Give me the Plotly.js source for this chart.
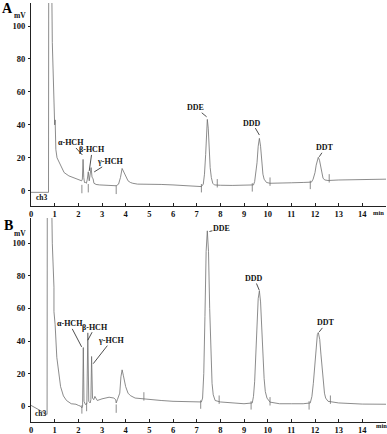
<!DOCTYPE html>
<html>
<head>
<meta charset="utf-8">
<script src="https://cdn.plot.ly/plotly-3.0.1.min.js"></script>
<style>html,body{margin:0;padding:0;background:#fff}#chart{width:387px;height:434px}</style>
</head>
<body>
<div id="chart"></div>
<script>
// ---- Panel A chromatogram (time in min, signal in mV) ----
const timeA = [0,0.74,0.75,0.86,0.9,0.95,1.0,1.02,1.05,1.1,1.15,1.2,1.3,1.4,1.6,1.8,2.0,2.1,2.14,2.17,2.2,2.23,2.26,2.3,2.34,2.38,2.42,2.46,2.5,2.54,2.58,2.62,2.66,2.75,2.9,3.2,3.5,3.6,3.7,3.78,3.85,3.9,4.0,4.1,4.2,4.3,4.5,5.0,5.5,6.0,6.5,7.0,7.2,7.28,7.33,7.38,7.42,7.45,7.49,7.53,7.57,7.62,7.68,7.75,7.9,8.0,8.5,9.0,9.4,9.45,9.5,9.55,9.6,9.65,9.7,9.75,9.8,9.85,9.95,10.1,10.5,11.0,11.5,11.85,11.92,12.0,12.05,12.1,12.14,12.19,12.24,12.29,12.34,12.42,12.55,13.0,13.5,14.0,15.0];
const signalA = [-1,-1,150,150,90,55,40,43,25,20,18.5,16,13,11,9,8,7,6.3,6,7,19,8,5,5,4.5,7,11.5,6,9,14,8,7.5,4.5,3.8,3.5,3.2,3.0,3.0,4,8,13.5,12,8,6,5,4.5,4,4,3.8,3.5,3.2,2.8,2.5,4,10,22,37,43.3,38,25,14,8,4.5,3.5,3.3,3.3,3.2,3.2,3.5,5.5,10,17,27,31.8,27,17,10,7,5,4.5,4.5,4.8,5,5.2,7,11,15.5,19,20.3,18.5,14,10,7.5,6.5,6.2,6.5,6.7,6.8,7];

// ---- Panel B chromatogram ----
const timeB = [0,0.68,0.69,0.85,0.9,0.97,0.97,1.02,1.09,1.15,1.25,1.37,1.5,1.7,1.9,2.0,2.1,2.15,2.18,2.21,2.24,2.3,2.36,2.4,2.44,2.5,2.53,2.56,2.6,2.65,2.7,2.8,3.0,3.3,3.5,3.58,3.6,3.65,3.75,3.8,3.85,3.9,4.0,4.1,4.2,4.4,4.7,5.0,5.5,6.0,6.5,7.0,7.2,7.25,7.3,7.35,7.4,7.45,7.5,7.55,7.6,7.65,7.7,7.78,8.0,8.5,9.0,9.35,9.4,9.45,9.5,9.55,9.6,9.65,9.7,9.75,9.8,9.85,9.9,9.97,10.1,10.5,11.0,11.5,11.8,11.87,11.93,12.0,12.05,12.1,12.14,12.2,12.25,12.3,12.35,12.4,12.45,12.55,13.0,13.5,14.0,15.0];
const signalB = [0.5,-5,150,150,100,73,58,50,30,21.7,12,6.3,3.5,1.5,1.2,0.5,0,-1,0,36,3,1,1.5,45,3,2,4,30.5,5,4,6,3.5,4.5,5.5,5,4,2,4,8,18,22.3,19,12,8,6.5,5,4.5,4,3.5,3,2.7,2.6,2.6,5,20,55,95,107.6,95,60,30,14,7,3.5,2.6,2,1.5,2,6,15,32,52,66,70.7,64,48,30,17,9,5,2.5,1.5,1.5,1.5,2,6,14,27,38,44,45.2,41,32,23,14,8,5,3,2,1.6,1.3,1.2];

// ---- integration markers (small vertical ticks on the baseline) ----
const markA_x = [2.15,2.42,3.6,7.2,7.87,9.35,10.1,11.8,12.6];
const markA_y = [1,1.5,0.5,1.5,4.5,2,5.5,3.5,7.5];
const markB_x = [2.15,2.35,3.6,4.77,7.17,7.95,9.3,10.1,11.75,12.65];
const markB_y = [-2,-0.5,-1.5,6,1,4,0.5,3,0.5,4];

// ---- peak labels ----
const peakNames = ["α-HCH","β-HCH","γ-HCH","DDE","DDD","DDT"];
const labelA_x = [2.17,2.46,2.67,7.42,9.65,12.18];
const labelA_y = [21.7,12,11.4,44.9,33.8,20.6];
const labelB_x = [2.14,2.4,2.63,7.54,9.65,12.18];
const labelB_y = [36.4,40.5,26.1,107.2,71.0,45.6];

const xTicks = [0,1,2,3,4,5,6,7,8,9,10,11,12,13,14];
const yTicks = [0,20,40,60,80,100];

const serif = "Liberation Serif, Times New Roman, serif";
const lineCol = "#6e6e6e";

const markStyle = {symbol: 'line-ns-open', size: 6, color: lineCol, line: {color: lineCol, width: 0.8}};
const traces = [
  {x: timeA, y: signalA, xaxis: 'x', yaxis: 'y', mode: 'lines', line: {color: lineCol, width: 0.8}, hoverinfo: 'skip'},
  {x: timeB, y: signalB, xaxis: 'x2', yaxis: 'y2', mode: 'lines', line: {color: lineCol, width: 0.8}, hoverinfo: 'skip'},
  {x: markA_x, y: markA_y, xaxis: 'x', yaxis: 'y', mode: 'markers', marker: markStyle, hoverinfo: 'skip'},
  {x: markB_x, y: markB_y, xaxis: 'x2', yaxis: 'y2', mode: 'markers', marker: markStyle, hoverinfo: 'skip'}
];

const tickFont = {family: serif, size: 8.5, color: '#111', weight: 700};
function xAx(anchor) {
  return {anchor: anchor, domain: [0, 1], range: [0, 15], tickvals: xTicks, ticks: 'inside', ticklen: 3,
    tickcolor: '#222', showline: true, linecolor: '#222', linewidth: 1, showgrid: false, zeroline: false,
    tickfont: tickFont, fixedrange: true};
}
function yAx(anchor, dom, rng) {
  return {anchor: anchor, domain: dom, range: rng, tickvals: yTicks, ticks: 'outside', ticklen: 2,
    tickcolor: '#222', showline: true, linecolor: '#222', linewidth: 1, showgrid: false, zeroline: false,
    tickfont: tickFont, ticklabelstandoff: 1, fixedrange: true};
}

const annFont = {family: serif, size: 8, color: '#111', weight: 700};
const offA = [[-11,-12],[3,-21],[16,-10],[-11,-9],[-7,-12],[6,-9]];
const offB = [[-12,-23],[7,-13],[18,-23],[12,-3],[-5,-12],[7,-9]];
const annotations = [];
peakNames.forEach((n, i) => {
  annotations.push({xref: 'x', yref: 'y', x: labelA_x[i], y: labelA_y[i], text: n, showarrow: true, arrowhead: 0,
    arrowwidth: 0.8, arrowcolor: '#222', ax: offA[i][0], ay: offA[i][1], font: annFont, borderpad: 0});
  annotations.push({xref: 'x2', yref: 'y2', x: labelB_x[i], y: labelB_y[i], text: n, showarrow: true, arrowhead: 0,
    arrowwidth: 0.8, arrowcolor: '#222', ax: offB[i][0], ay: offB[i][1], font: annFont, borderpad: 0});
});
const big = {family: serif, size: 14, color: '#000', weight: 700};
const small = {family: serif, size: 7.5, color: '#111', weight: 700};
const minFont = {family: serif, size: 6.5, color: '#111', weight: 700};
function lab(xref, yref, x, y, text, font) {
  return {xref: xref, yref: yref, x: x, y: y, text: text, showarrow: false, font: font,
    xanchor: 'center', yanchor: 'middle', borderpad: 0};
}
annotations.push(
  lab('paper', 'paper', -0.065, 0.988, 'A', big),
  lab('paper', 'paper', -0.062, 0.468, 'B', big),
  lab('paper', 'paper', -0.031, 0.971, 'mV', small),
  lab('paper', 'paper', -0.031, 0.449, 'mV', small),
  lab('x', 'y', 0.46, -4.4, 'ch3', small),
  lab('x2', 'y2', 0.42, -4.3, 'ch3', small),
  lab('x', 'paper', 14.67, 0.499, 'min', minFont),
  lab('x2', 'paper', 14.83, -0.0095, 'min', minFont)
);

const layout = {
  width: 387, height: 434,
  margin: {l: 31, r: 1, t: 3, b: 12},
  paper_bgcolor: '#fff', plot_bgcolor: '#fff',
  showlegend: false,
  xaxis: xAx('y'), yaxis: yAx('x', [0.5155, 1], [-9.3, 114]),
  xaxis2: xAx('y2'), yaxis2: yAx('x2', [0, 0.4869], [-9.7, 115.5]),
  annotations: annotations
};

Plotly.newPlot('chart', traces, layout, {displayModeBar: false, staticPlot: true});
</script>
</body>
</html>
